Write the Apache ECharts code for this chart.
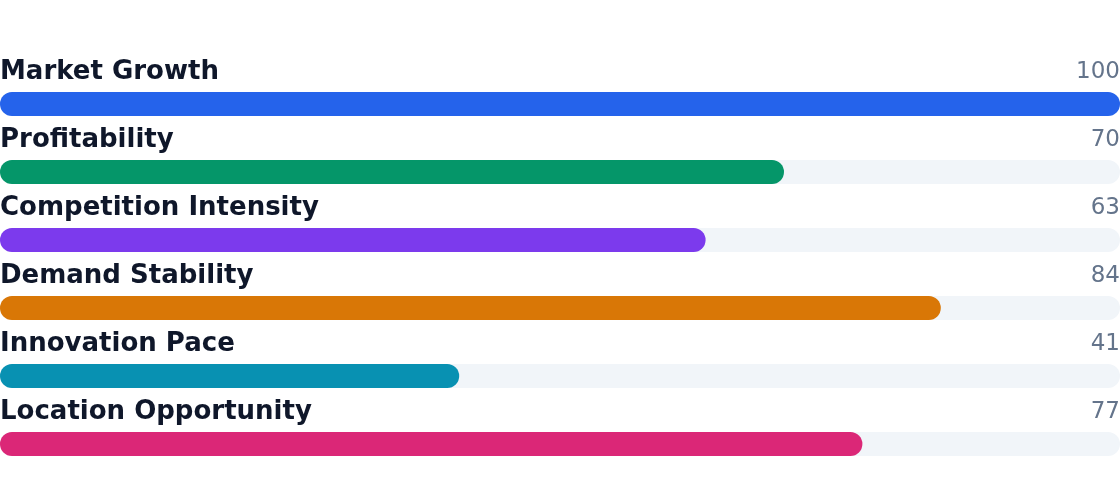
<!DOCTYPE html>
<html>
<head>
<meta charset="utf-8">
<style>
  html, body { margin: 0; padding: 0; background: #fff; }
  #chart { width: 1120px; height: 488px; }
</style>
<script src="https://cdn.jsdelivr.net/npm/echarts@6/dist/echarts.min.js"></script>
</head>
<body>
<div id="chart"></div>
<script>
// data
var categories = ['Market Growth', 'Profitability', 'Competition Intensity', 'Demand Stability', 'Innovation Pace', 'Location Opportunity'];
var values = [100, 70, 63, 84, 41, 77];
var colors = ['#2563eb', '#059669', '#7c3aed', '#d97706', '#0891b2', '#db2777'];
var maxValue = 100;

var myChart = echarts.init(document.getElementById('chart'));

var fontFamily = 'DejaVu Sans';

option = {
    animation: false,
    grid: { left: 0, right: 0, top: 70, bottom: 10, containLabel: false },
    xAxis: { type: 'value', min: 0, max: maxValue, show: false },
    yAxis: { type: 'category', data: categories, inverse: true, show: false },
    series: [
        {
            // grey track + name label
            type: 'bar',
            barWidth: 24,
            silent: true,
            itemStyle: { color: '#f1f5f9', borderRadius: 12 },
            label: {
                show: true,
                position: [0, -20],
                verticalAlign: 'middle',
                align: 'left',
                formatter: function (p) { return p.name; },
                color: '#0f172a',
                fontFamily: fontFamily,
                fontWeight: 'bold',
                fontSize: 26
            },
            data: categories.map(function () { return maxValue; })
        },
        {
            // invisible track carrying the value label
            type: 'bar',
            barWidth: 24,
            silent: true,
            itemStyle: { color: 'rgba(0,0,0,0)' },
            label: {
                show: true,
                position: ['100%', -20],
                verticalAlign: 'middle',
                align: 'right',
                formatter: function (p) { return values[p.dataIndex]; },
                color: '#64748b',
                fontFamily: fontFamily,
                fontSize: 23
            },
            data: categories.map(function () { return maxValue; })
        },
        {
            type: 'bar',
            barWidth: 24,
            barGap: '-100%',
            itemStyle: { borderRadius: 12 },
            data: values.map(function (v, i) {
                return { value: v, itemStyle: { color: colors[i] } };
            })
        }
    ]
};

myChart.setOption(option);
</script>
</body>
</html>
